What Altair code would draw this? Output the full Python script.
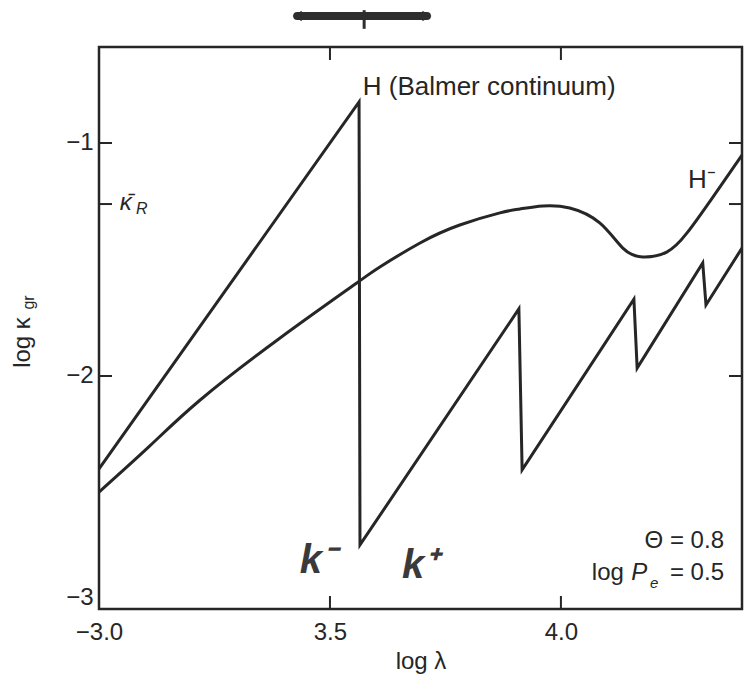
import altair as alt
import pandas as pd

# ---------------- data ----------------
# H (Balmer / Paschen / Brackett / Pfund continua) sawtooth
balmer_x = [3.000, 3.563, 3.565, 3.909, 3.916, 4.158, 4.165, 4.307, 4.314, 4.392]
balmer_y = [-2.399, -0.824, -2.725, -1.712, -2.403, -1.670, -1.966, -1.515, -1.695, -1.451]

# H- opacity curve
hminus_x = [3.000, 3.110, 3.219, 3.392, 3.558, 3.608, 3.695, 3.781, 3.868, 3.911,
            3.961, 4.019, 4.084, 4.134, 4.177, 4.229, 4.273, 4.329, 4.392]
hminus_y = [-2.498, -2.300, -2.103, -1.837, -1.601, -1.532, -1.429, -1.352, -1.300, -1.283,
            -1.270, -1.279, -1.343, -1.451, -1.489, -1.468, -1.386, -1.232, -1.052]

x_tick_values = [3.0, 3.5, 4.0]
y_tick_values = [-1, -2, -3]
kappa_r_value = -1.262          # Rosseland mean marked on the y axis
inner_x_ticks = [3.5, 4.0]
inner_y_ticks = [-1, kappa_r_value, -2]

X_DOMAIN = [3.0, 4.392]
Y_DOMAIN = [-3.0, -0.588]

# annotation texts
label_text = ["H (Balmer continuum)", "H⁻"]
label_x = [3.571, 4.275]
label_y = [-0.794, -1.193]

# handwritten marks
hand_text = ["k⁻", "k⁺"]
hand_x = [3.474, 3.695]
hand_y = [-2.845, -2.867]

arrow_x = [3.429]
arrow_x2 = [3.710]
arrow_y = [-0.455]
arrow_mid_x = [3.574]
arrow_mid_y = [-0.43]
arrow_mid_y2 = [-0.51]

FONT = "Liberation Sans"
INK = "#262626"
W, H = 643, 562

xs = alt.Scale(domain=X_DOMAIN, nice=False, zero=False)
ys = alt.Scale(domain=Y_DOMAIN, nice=False, zero=False)

X_AXIS = alt.Axis(
    values=x_tick_values,
    labelExpr="datum.value == 3 ? '−3.0' : format(datum.value, '.1f')",
    domain=False, ticks=False, grid=False, labelFlush=False,
    labelFont=FONT, labelFontSize=24, labelColor=INK, labelPadding=11,
    title="log λ", titleFont=FONT, titleFontSize=24, titleFontWeight="normal",
    titleColor=INK, titlePadding=5,
)
Y_AXIS = alt.Axis(
    values=y_tick_values,
    labelExpr="replace(format(datum.value, 'd'), '-', '−')",
    labelBaseline=alt.ExprRef(expr="datum.value == -3 ? 'bottom' : 'middle'"),
    domain=False, ticks=False, grid=False, labelFlush=False,
    labelFont=FONT, labelFontSize=24, labelColor=INK, labelPadding=6,
    title="",
)


def xq(field="x"):
    return alt.X(f"{field}:Q", scale=xs, axis=X_AXIS)


def yq(field="y"):
    return alt.Y(f"{field}:Q", scale=ys, axis=Y_AXIS)


balmer_df = pd.DataFrame({"x": balmer_x, "y": balmer_y, "i": list(range(len(balmer_x)))})
hminus_df = pd.DataFrame({"x": hminus_x, "y": hminus_y, "i": list(range(len(hminus_x)))})

balmer_line = alt.Chart(balmer_df).mark_line(color=INK, strokeWidth=3, strokeJoin="miter").encode(
    x=xq(), y=yq(), order="i:Q",
)

hminus_line = alt.Chart(hminus_df).mark_line(color=INK, strokeWidth=3, interpolate="natural").encode(
    x=xq(), y=yq(), order="i:Q"
)

# inward ticks on all four sides
ytick_df = pd.DataFrame({"y": inner_y_ticks})
xtick_df = pd.DataFrame({"x": inner_x_ticks})
left_ticks = alt.Chart(ytick_df).mark_rule(color=INK, strokeWidth=2).encode(
    y=yq(), x=alt.value(0), x2=alt.value(13))
right_ticks = alt.Chart(ytick_df).mark_rule(color=INK, strokeWidth=2).encode(
    y=yq(), x=alt.value(W), x2=alt.value(W - 13))
bottom_ticks = alt.Chart(xtick_df).mark_rule(color=INK, strokeWidth=2).encode(
    x=xq(), y=alt.value(H), y2=alt.value(H - 13))
top_ticks = alt.Chart(xtick_df).mark_rule(color=INK, strokeWidth=2).encode(
    x=xq(), y=alt.value(0), y2=alt.value(13))

# labels on curves
labels = alt.Chart(pd.DataFrame({"x": label_x, "y": label_y, "t": label_text})).mark_text(
    align="left", baseline="alphabetic", font=FONT, fontSize=26, color=INK
).encode(x=xq(), y=yq(), text="t:N")

# kappa_R label
kr_main = alt.Chart(pd.DataFrame({"x": [3.045], "y": [-1.288], "t": ["κ̄"]})).mark_text(
    align="left", baseline="alphabetic", font=FONT, fontSize=24, fontStyle="italic", color=INK
).encode(x=xq(), y=yq(), text="t:N")
kr_sub = alt.Chart(pd.DataFrame({"x": [3.080], "y": [-1.305], "t": ["R"]})).mark_text(
    align="left", baseline="alphabetic", font=FONT, fontSize=16, fontStyle="italic", color=INK
).encode(x=xq(), y=yq(), text="t:N")

# parameter box
theta = alt.Chart(pd.DataFrame({"x": [4.353], "y": [-2.738], "t": ["Θ  =  0.8"]})).mark_text(
    align="right", baseline="alphabetic", font=FONT, fontSize=24, color=INK
).encode(x=xq(), y=yq(), text="t:N")
pe_eq = alt.Chart(pd.DataFrame({"x": [4.353], "y": [-2.876], "t": ["=  0.5"]})).mark_text(
    align="right", baseline="alphabetic", font=FONT, fontSize=24, color=INK
).encode(x=xq(), y=yq(), text="t:N")
pe_log = alt.Chart(pd.DataFrame({"x": [4.067], "y": [-2.876], "t": ["log"]})).mark_text(
    align="left", baseline="alphabetic", font=FONT, fontSize=24, color=INK
).encode(x=xq(), y=yq(), text="t:N")
pe_p = alt.Chart(pd.DataFrame({"x": [4.152], "y": [-2.876], "t": ["P"]})).mark_text(
    align="left", baseline="alphabetic", font=FONT, fontSize=24, fontStyle="italic", color=INK
).encode(x=xq(), y=yq(), text="t:N")
pe_e = alt.Chart(pd.DataFrame({"x": [4.193], "y": [-2.910], "t": ["e"]})).mark_text(
    align="left", baseline="alphabetic", font=FONT, fontSize=15, fontStyle="italic", color=INK
).encode(x=xq(), y=yq(), text="t:N")

# handwritten k- / k+
hand = alt.Chart(pd.DataFrame({"x": hand_x, "y": hand_y, "t": hand_text})).mark_text(
    align="center", baseline="alphabetic", font=FONT, fontSize=40, fontStyle="italic",
    fontWeight="bold", color="#3a3a3a"
).encode(x=xq(), y=yq(), text="t:N")

# handwritten double arrow above the frame
arrow = alt.Chart(pd.DataFrame({"x": arrow_x, "x2": arrow_x2, "y": arrow_y})).mark_rule(
    color="#2e2e2e", strokeWidth=8, strokeCap="round", clip=False
).encode(x=xq(), x2="x2:Q", y=yq())
arrow_mid = alt.Chart(pd.DataFrame({"x": arrow_mid_x, "y": arrow_mid_y, "y2": arrow_mid_y2})).mark_rule(
    color="#2e2e2e", strokeWidth=3, clip=False
).encode(x=xq(), y=yq(), y2="y2:Q")
heads = alt.Chart(pd.DataFrame({"x": [arrow_x[0], arrow_x2[0]], "y": [arrow_y[0], arrow_y[0]],
                                "s": ["triangle-left", "triangle-right"]})).mark_point(
    filled=True, color="#2e2e2e", size=110, opacity=1, clip=False
).encode(x=xq(), y=yq(), shape=alt.Shape("s:N", scale=None, legend=None))

# y-axis title: log κ_gr (rotated)
ytitle_main = alt.Chart(pd.DataFrame({"y": [-1.965], "t": ["log κ"]})).mark_text(
    align="left", baseline="middle", angle=270, font=FONT, fontSize=24, color=INK
).encode(x=alt.value(-76), y=yq(), text="t:N")
ytitle_sub = alt.Chart(pd.DataFrame({"y": [-1.715], "t": ["gr"]})).mark_text(
    align="left", baseline="middle", angle=270, font=FONT, fontSize=16, color=INK
).encode(x=alt.value(-70), y=yq(), text="t:N")

chart = alt.layer(
    balmer_line, hminus_line,
    left_ticks, right_ticks, bottom_ticks, top_ticks,
    labels, kr_main, kr_sub,
    theta, pe_eq, pe_log, pe_p, pe_e,
    hand, arrow, arrow_mid, heads,
    ytitle_main, ytitle_sub,
).properties(
    width=W, height=H,
    autosize=alt.AutoSizeParams(type="none"),
    padding={"left": 99, "top": 47, "right": 2, "bottom": 69},
    background="white",
).configure_view(
    stroke=INK, strokeWidth=2.5
)

chart.save("out.html", embed_options={"renderer": "svg", "actions": False})
